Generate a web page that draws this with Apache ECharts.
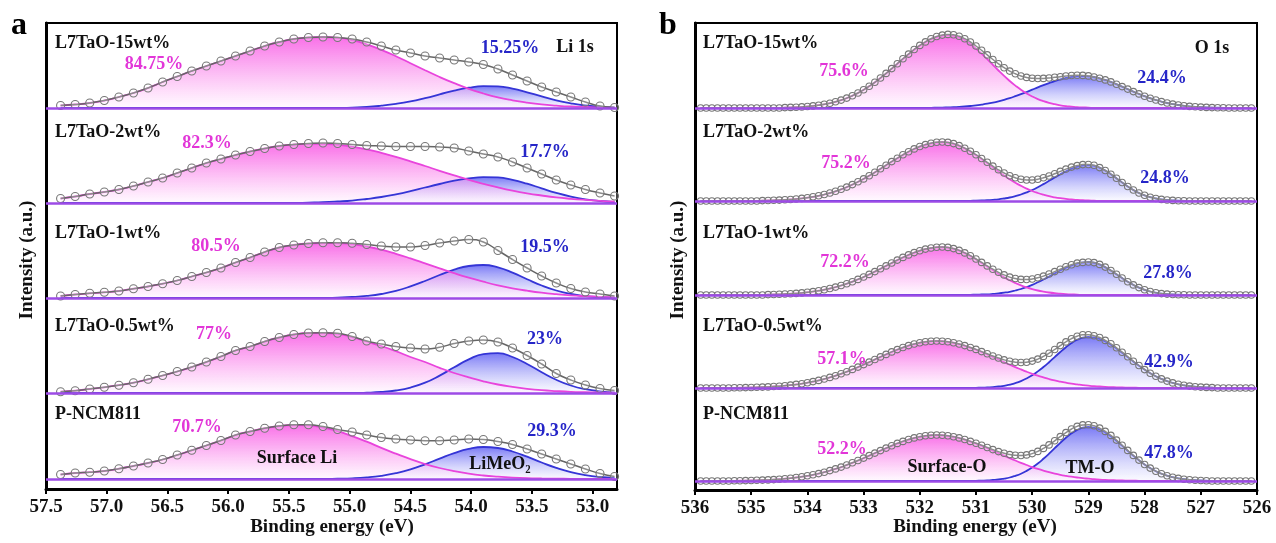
<!DOCTYPE html>
<html>
<head>
<meta charset="utf-8">
<script src="https://cdn.jsdelivr.net/npm/echarts@6/dist/echarts.min.js"></script>
<style>
html, body { margin: 0; padding: 0; background: #fff; }
#main { width: 1276px; height: 543px; }
</style>
</head>
<body>
<div id="main"></div>
<script>
// ---------- Li 1s (panel a) ----------
const energyLi = [57.38, 57.26, 57.14, 57.02, 56.90, 56.78, 56.66, 56.54, 56.42, 56.30, 56.18, 56.06, 55.94, 55.82, 55.70, 55.58, 55.46, 55.34, 55.22, 55.10,
  54.98, 54.86, 54.74, 54.62, 54.50, 54.38, 54.26, 54.14, 54.02, 53.90, 53.78, 53.66, 53.54, 53.42, 53.30, 53.18, 53.06, 52.94, 52.82];
const liTicks = [53.0, 53.5, 54.0, 54.5, 55.0, 55.5, 56.0, 56.5, 57.0, 57.5];

// measured spectra (circles)
const li15Data = [2.5, 3.5, 5, 7.5, 11, 15, 20, 26, 31.5, 37, 42, 47, 52, 57, 62, 66, 69, 70.5, 71, 70.5, 69, 66, 62, 58, 55, 52, 50, 48, 46, 43.5, 39, 33, 27, 21, 16, 11, 6, 2, 0.5];
const li2Data = [4.5, 6.5, 9, 11, 13.5, 17, 21, 25, 30, 35, 40, 44, 48, 51.5, 54.5, 57, 58.5, 59.5, 60, 59.5, 58.5, 57.5, 57, 56.5, 56.5, 56.5, 56, 55, 52, 49, 46, 41, 35, 29, 23, 18, 13.5, 10, 7];
const li1Data = [2, 3.5, 4.7, 5.7, 7, 9.3, 11.5, 14.3, 17.5, 21.5, 25.5, 30, 35.5, 40.5, 46, 50.5, 53, 54.5, 55.3, 55.3, 54.7, 53.5, 52, 51, 51, 52.5, 55, 57, 58.5, 56, 47.5, 38.5, 30, 22, 15, 9.5, 6, 4, 2];
const li05Data = [1.3, 2.3, 4, 5.7, 7.8, 10.3, 13.7, 17.5, 21.5, 26, 31, 36.5, 42.5, 46.5, 51.5, 55.5, 58.5, 60, 60.3, 59.7, 56.5, 52, 49, 46.5, 45, 44, 45.7, 49.5, 52, 53, 51, 45, 37.5, 29, 19.5, 13, 8, 4.5, 2.5];
const li0Data = [4.5, 6, 6.8, 8, 10.3, 13, 16, 19.5, 24, 28.7, 33.5, 38.5, 44, 47.5, 50.8, 53, 54.2, 54.2, 52.5, 49.5, 47, 44, 41.5, 40, 39, 38.3, 38.3, 39, 40, 39.5, 37.5, 34.5, 30, 25, 20, 15, 10, 5.5, 2.5];

// fitted Surface Li component
const li15Surface = [2.5, 3.5, 5, 7.5, 11, 15, 20, 26, 31.5, 37, 42, 47, 52, 57, 62, 66, 69, 70.5, 71, 70.3, 67.9, 63.7, 58.2, 51.8, 44.8, 37.8, 31, 24.8, 19.2, 14.5, 10.6, 7.7, 5.4, 3.6, 2.4, 1.5, 1, 0.6, 0.4];
const li2Surface = [4.5, 6.5, 9, 11, 13.5, 17, 21, 25, 30, 35, 40, 44, 48, 51.5, 54.5, 57, 58.5, 59.1, 59.2, 58.2, 56.4, 53.7, 50.2, 46.2, 41.7, 37, 32.2, 27.6, 23.2, 19.2, 15.6, 12.4, 9.7, 7.5, 5.6, 4.2, 3.1, 2.2, 1.5];
const li1Surface = [2, 3.5, 4.7, 5.7, 7, 9.3, 11.5, 14.3, 17.5, 21.5, 25.5, 30, 35.5, 40.5, 46, 50.5, 53, 54.5, 55, 55, 53.8, 51.5, 48.3, 44.2, 39.6, 34.7, 29.7, 24.8, 20.3, 16.3, 12.7, 9.7, 7.3, 5.3, 3.8, 2.6, 1.8, 1.2, 0.8];
const li05Surface = [1.3, 2.3, 4, 5.7, 7.8, 10.3, 13.7, 17.5, 21.5, 26, 31, 36.5, 42.5, 46.5, 51.5, 55.5, 58.5, 60, 60, 59.2, 55.8, 51.5, 47, 41.8, 36, 31, 25.2, 20, 15.6, 11.7, 8.5, 6.1, 4.2, 2.8, 1.9, 1.2, 0.8, 0.5, 0.3];
const li0Surface = [4.5, 6, 6.8, 8, 10.3, 13, 16, 19.5, 24, 28.7, 33.5, 38.5, 44, 47.5, 50.8, 53, 54, 53.6, 51.5, 47.8, 42.9, 37.3, 31.1, 25.3, 19.8, 15, 11, 7.8, 5.3, 3.5, 2.3, 1.4, 0.8, 0.5, 0.3, 0.2, 0.1, 0, 0];

// fitted LiMeO2 component
const li15Lattice = [0, 0, 0, 0, 0, 0, 0, 0, 0, 0, 0, 0, 0, 0, 0, 0, 0, 0, 0, 0, 0.4, 1, 2.3, 4.1, 6.6, 9.9, 13.6, 17.4, 20.3, 21.8, 21.6, 19.4, 15.7, 11.6, 7.7, 4.7, 2.5, 1.3, 0.5];
const li2Lattice = [0, 0, 0, 0, 0, 0, 0, 0, 0, 0, 0, 0, 0, 0, 0, 0, 0, 0.4, 0.8, 1.5, 2.4, 4, 6, 8.7, 11.9, 15.5, 19, 22.3, 24.6, 25.9, 25.6, 23.2, 19.3, 14.6, 10.1, 6.4, 3.7, 2, 0.9];
const li1Lattice = [0, 0, 0, 0, 0, 0, 0, 0, 0, 0, 0, 0, 0, 0, 0, 0, 0, 0, 0, 0.4, 1, 2.1, 4, 7.1, 11.6, 17, 23, 28.4, 32, 33, 30.6, 25.4, 18.8, 12.5, 7.5, 4, 1.9, 0.8, 0.3];
const li05Lattice = [0, 0, 0, 0, 0, 0, 0, 0, 0, 0, 0, 0, 0, 0, 0, 0, 0, 0, 0, 0, 0, 0.3, 1, 2.5, 5.4, 10.3, 17.4, 25.7, 33.6, 38.9, 39.8, 36, 29, 20.8, 13.2, 7.5, 3.8, 1.7, 0.7];
const li0Lattice = [0, 0, 0, 0, 0, 0, 0, 0, 0, 0, 0, 0, 0, 0, 0, 0, 0, 0, 0, 0.3, 0.7, 1.6, 3.2, 5.8, 9.6, 14.7, 20.4, 25.9, 30.1, 32, 31, 27.5, 22.3, 16.5, 11.2, 6.9, 3.9, 2, 1];

// ---------- O 1s (panel b) ----------
const energyO = [535.9, 535.8, 535.7, 535.6, 535.5, 535.4, 535.3, 535.2, 535.1, 535.0,
  534.9, 534.8, 534.7, 534.6, 534.5, 534.4, 534.3, 534.2, 534.1, 534.0,
  533.9, 533.8, 533.7, 533.6, 533.5, 533.4, 533.3, 533.2, 533.1, 533.0,
  532.9, 532.8, 532.7, 532.6, 532.5, 532.4, 532.3, 532.2, 532.1, 532.0,
  531.9, 531.8, 531.7, 531.6, 531.5, 531.4, 531.3, 531.2, 531.1, 531.0,
  530.9, 530.8, 530.7, 530.6, 530.5, 530.4, 530.3, 530.2, 530.1, 530.0,
  529.9, 529.8, 529.7, 529.6, 529.5, 529.4, 529.3, 529.2, 529.1, 529.0,
  528.9, 528.8, 528.7, 528.6, 528.5, 528.4, 528.3, 528.2, 528.1, 528.0,
  527.9, 527.8, 527.7, 527.6, 527.5, 527.4, 527.3, 527.2, 527.1, 527.0,
  526.9, 526.8, 526.7, 526.6, 526.5, 526.4, 526.3, 526.2, 526.1];

// fitted Surface-O component
const o15Surface = [0, 0, 0, 0, 0, 0, 0, 0, 0, 0, 0, 0, 0, 0, 0,
  0.4, 0.6, 0.8, 1.1, 1.5, 2.1, 2.8, 3.7, 4.8, 6.2, 7.9, 9.9, 12.3, 15, 18.2, 21.8, 25.7, 30, 34.6, 39.4, 44.3, 49.2, 53.9, 58.5, 62.6, 66.1, 69.1, 71.2, 72.5, 73,
  72.4, 70.6, 67.8, 64, 59.4, 54.3, 48.8, 43.1, 37.5, 32.1, 27, 22.4, 18.2, 14.6, 11.5, 8.9, 6.8, 5.1, 3.8, 2.7, 1.9, 1.4, 0.9, 0.6, 0.4,
  0, 0, 0, 0, 0, 0, 0, 0, 0, 0, 0, 0, 0, 0, 0, 0, 0, 0, 0, 0, 0, 0, 0, 0, 0, 0, 0, 0, 0];
const o2Surface = [0, 0, 0, 0, 0, 0, 0, 0, 0, 0, 0,
  0.4, 0.5, 0.7, 0.9, 1.2, 1.5, 2, 2.6, 3.3, 4.2, 5.2, 6.5, 8, 9.7, 11.7, 13.9, 16.4, 19.2, 22.1, 25.3, 28.7, 32.2, 35.8, 39.4, 42.8, 46.2, 49.3, 52.1, 54.5, 56.4, 57.8, 58.7, 59,
  58.6, 57.4, 55.4, 52.8, 49.6, 46, 42, 37.9, 33.7, 29.5, 25.5, 21.8, 18.3, 15.2, 12.4, 10, 8, 6.3, 4.8, 3.7, 2.8, 2.1, 1.5, 1.1, 0.8, 0.5, 0.4,
  0, 0, 0, 0, 0, 0, 0, 0, 0, 0, 0, 0, 0, 0, 0, 0, 0, 0, 0, 0, 0, 0, 0, 0, 0, 0, 0, 0];
const o1Surface = [0, 0, 0, 0, 0, 0, 0, 0, 0, 0, 0, 0,
  0.4, 0.5, 0.7, 1, 1.3, 1.6, 2.1, 2.7, 3.4, 4.3, 5.3, 6.5, 7.9, 9.5, 11.3, 13.3, 15.6, 18, 20.6, 23.4, 26.2, 29.1, 32, 34.9, 37.6, 40.1, 42.4, 44.3, 45.9, 47, 47.8, 48,
  47.6, 46.4, 44.6, 42.1, 39.1, 35.7, 32.1, 28.4, 24.7, 21.1, 17.8, 14.7, 12, 9.6, 7.6, 5.9, 4.5, 3.4, 2.5, 1.8, 1.3, 0.9, 0.6, 0.4,
  0, 0, 0, 0, 0, 0, 0, 0, 0, 0, 0, 0, 0, 0, 0, 0, 0, 0, 0, 0, 0, 0, 0, 0, 0, 0, 0, 0, 0, 0, 0];
const o05Surface = [0, 0, 0, 0, 0, 0,
  0.2, 0.3, 0.4, 0.5, 0.7, 0.9, 1.1, 1.5, 1.8, 2.3, 2.9, 3.6, 4.3, 5.3, 6.4, 7.6, 9, 10.6, 12.3, 14.2, 16.3, 18.6, 20.9, 23.4, 25.9, 28.5, 31.1, 33.6, 36.1, 38.4, 40.5, 42.4, 44, 45.3, 46.2, 46.8, 47,
  46.8, 46.2, 45.3, 44, 42.4, 40.5, 38.4, 36.1, 33.6, 31.1, 28.5, 25.9, 23.4, 20.9, 18.6, 16.3, 14.2, 12.3, 10.6, 9, 7.6, 6.4, 5.3, 4.3, 3.6, 2.9, 2.3, 1.8, 1.5, 1.1, 0.9, 0.7, 0.5, 0.4, 0.3, 0.2,
  0, 0, 0, 0, 0, 0, 0, 0, 0, 0, 0, 0, 0, 0, 0, 0, 0, 0, 0, 0];
const o0Surface = [0, 0, 0, 0, 0, 0,
  0.2, 0.3, 0.4, 0.5, 0.7, 0.9, 1.1, 1.4, 1.8, 2.3, 2.8, 3.5, 4.3, 5.2, 6.2, 7.4, 8.8, 10.4, 12.1, 13.9, 16, 18.2, 20.5, 22.9, 25.4, 27.9, 30.4, 32.9, 35.3, 37.6, 39.6, 41.5, 43.1, 44.3, 45.2, 45.8, 46,
  45.8, 45.2, 44.3, 43.1, 41.5, 39.6, 37.6, 35.3, 32.9, 30.4, 27.9, 25.4, 22.9, 20.5, 18.2, 16, 13.9, 12.1, 10.4, 8.8, 7.4, 6.2, 5.2, 4.3, 3.5, 2.8, 2.3, 1.8, 1.4, 1.1, 0.9, 0.7, 0.5, 0.4, 0.3, 0.2,
  0, 0, 0, 0, 0, 0, 0, 0, 0, 0, 0, 0, 0, 0, 0, 0, 0, 0, 0, 0];

// fitted TM-O component
const o15Lattice = [0, 0, 0, 0, 0, 0, 0, 0, 0, 0, 0, 0, 0, 0, 0, 0, 0, 0, 0, 0, 0, 0, 0, 0, 0, 0, 0, 0, 0, 0, 0, 0, 0, 0, 0, 0, 0, 0, 0, 0, 0,
  0.2, 0.3, 0.4, 0.6, 0.8, 1.1, 1.5, 2, 2.6, 3.4, 4.3, 5.4, 6.7, 8.2, 9.9, 11.8, 13.8, 16, 18.3, 20.6, 22.8, 24.9, 26.9, 28.6, 30.1, 31.1, 31.8, 32,
  31.7, 31, 29.7, 28.1, 26.1, 23.8, 21.4, 18.9, 16.4, 14.1, 11.8, 9.8, 8, 6.4, 5, 3.9, 3, 2.2, 1.6, 1.2, 0.9, 0.6, 0.4, 0.3, 0.2,
  0, 0, 0, 0, 0];
const o2Lattice = [0, 0, 0, 0, 0, 0, 0, 0, 0, 0, 0, 0, 0, 0, 0, 0, 0, 0, 0, 0, 0, 0, 0, 0, 0, 0, 0, 0, 0, 0, 0, 0, 0, 0, 0, 0, 0, 0, 0, 0, 0, 0, 0, 0, 0, 0, 0, 0,
  0.2, 0.3, 0.5, 0.8, 1.2, 1.7, 2.5, 3.5, 4.9, 6.5, 8.6, 11, 13.8, 16.9, 20.2, 23.5, 26.8, 29.8, 32.4, 34.3, 35.6, 36,
  35.3, 33.4, 30.5, 26.8, 22.7, 18.5, 14.5, 11, 8, 5.7, 3.8, 2.5, 1.6, 1, 0.6, 0.3, 0.2,
  0, 0, 0, 0, 0, 0, 0, 0, 0, 0, 0, 0];
const o1Lattice = [0, 0, 0, 0, 0, 0, 0, 0, 0, 0, 0, 0, 0, 0, 0, 0, 0, 0, 0, 0, 0, 0, 0, 0, 0, 0, 0, 0, 0, 0, 0, 0, 0, 0, 0, 0, 0, 0, 0, 0, 0, 0, 0, 0, 0, 0, 0, 0,
  0.2, 0.3, 0.5, 0.7, 1.1, 1.6, 2.3, 3.2, 4.5, 6, 7.9, 10.1, 12.7, 15.5, 18.5, 21.6, 24.5, 27.3, 29.7, 31.5, 32.6, 33,
  32.4, 30.6, 27.9, 24.5, 20.8, 17, 13.3, 10.1, 7.4, 5.2, 3.5, 2.3, 1.4, 0.9, 0.5, 0.3, 0.2,
  0, 0, 0, 0, 0, 0, 0, 0, 0, 0, 0, 0];
const o05Lattice = [0, 0, 0, 0, 0, 0, 0, 0, 0, 0, 0, 0, 0, 0, 0, 0, 0, 0, 0, 0, 0, 0, 0, 0, 0, 0, 0, 0, 0, 0, 0, 0, 0, 0, 0, 0, 0, 0, 0, 0, 0, 0, 0, 0, 0, 0, 0, 0, 0,
  0.2, 0.3, 0.6, 0.9, 1.5, 2.2, 3.4, 4.9, 6.9, 9.5, 12.7, 16.6, 21, 25.8, 30.9, 36, 40.8, 45, 48.2, 50.3, 51,
  50.5, 49, 46.5, 43.3, 39.5, 35.3, 30.9, 26.5, 22.3, 18.4, 14.8, 11.7, 9.1, 6.9, 5.1, 3.7, 2.7, 1.9, 1.3, 0.9, 0.6, 0.4,
  0, 0, 0, 0, 0, 0, 0];
const o0Lattice = [0, 0, 0, 0, 0, 0, 0, 0, 0, 0, 0, 0, 0, 0, 0, 0, 0, 0, 0, 0, 0, 0, 0, 0, 0, 0, 0, 0, 0, 0, 0, 0, 0, 0, 0, 0, 0, 0, 0, 0, 0, 0, 0, 0, 0, 0, 0, 0, 0,
  0.2, 0.4, 0.6, 1, 1.5, 2.4, 3.5, 5.2, 7.3, 10.1, 13.5, 17.5, 22.2, 27.3, 32.8, 38.2, 43.2, 47.7, 51.1, 53.3, 54,
  53.4, 51.5, 48.5, 44.7, 40.2, 35.3, 30.2, 25.3, 20.7, 16.5, 12.9, 9.8, 7.3, 5.3, 3.8, 2.6, 1.8, 1.2, 0.8, 0.5, 0.3,
  0, 0, 0, 0, 0, 0, 0, 0];

// labels
const sampleNames = ['L7TaO-15wt%', 'L7TaO-2wt%', 'L7TaO-1wt%', 'L7TaO-0.5wt%', 'P-NCM811'];
const liSurfacePct = ['84.75%', '82.3%', '80.5%', '77%', '70.7%'];
const liLatticePct = ['15.25%', '17.7%', '19.5%', '23%', '29.3%'];
const oSurfacePct = ['75.6%', '75.2%', '72.2%', '57.1%', '52.2%'];
const oLatticePct = ['24.4%', '24.8%', '27.8%', '42.9%', '47.8%'];

const liSurface = [li15Surface, li2Surface, li1Surface, li05Surface, li0Surface];
const liLattice = [li15Lattice, li2Lattice, li1Lattice, li05Lattice, li0Lattice];
const liMeasured = [li15Data, li2Data, li1Data, li05Data, li0Data];
const oSurface = [o15Surface, o2Surface, o1Surface, o05Surface, o0Surface];
const oLattice = [o15Lattice, o2Lattice, o1Lattice, o05Lattice, o0Lattice];

// vertical stacking of the spectra (layout)
const offsetA = [381, 286, 191, 96, 10];
const offsetB = [382, 289, 195, 102, 9];

const FONT = '"Liberation Serif", "Times New Roman", serif';
const PINK_LINE = '#e845dc';
const BLUE_LINE = '#3535d6';
const PINK_TEXT = '#e236d8';
const BLUE_TEXT = '#2626c8';
const BASE = '#9d4be6';

var myChart = echarts.init(document.getElementById('main'));

const pinkFill = () => new echarts.graphic.LinearGradient(0, 0, 0, 1, [
    { offset: 0, color: 'rgba(246, 40, 220, 0.95)' },
    { offset: 1, color: 'rgba(255, 245, 255, 0.75)' }
]);
const blueFill = () => new echarts.graphic.LinearGradient(0, 0, 0, 1, [
    { offset: 0, color: 'rgba(55, 55, 240, 0.95)' },
    { offset: 1, color: 'rgba(245, 245, 255, 0.6)' }
]);

const series = [];

const addSpectrum = (g, energy, surf, latt, measured, off, circle) => {
    const toPts = arr => energy.map((e, i) => [e, off + arr[i]]);
    series.push({
        type: 'line', xAxisIndex: g, yAxisIndex: g, smooth: true, symbol: 'none',
        data: toPts(latt),
        lineStyle: { color: BLUE_LINE, width: 1.8 },
        areaStyle: { color: blueFill(), origin: off },
        markLine: {
            silent: true, symbol: ['none', 'none'], label: { show: false },
            lineStyle: { color: BASE, width: 2.5, type: 'solid' },
            data: [{ yAxis: off }]
        }
    });
    series.push({
        type: 'line', xAxisIndex: g, yAxisIndex: g, smooth: true, symbol: 'none',
        data: toPts(surf),
        lineStyle: { color: PINK_LINE, width: 1.8 },
        areaStyle: { color: pinkFill(), origin: off }
    });
    series.push({
        type: 'line', xAxisIndex: g, yAxisIndex: g, smooth: true,
        symbol: 'circle', symbolSize: circle, showAllSymbol: true,
        data: toPts(measured),
        lineStyle: { color: '#666', width: 1.5 },
        itemStyle: { color: 'rgba(255,255,255,0.25)', borderColor: '#777', borderWidth: 1.1 }
    });
};

for (let s = 0; s < 5; s++) {
    addSpectrum(0, energyLi, liSurface[s], liLattice[s], liMeasured[s], offsetA[s], 8);
    // O 1s envelope is the sum of the two fitted components
    const env = oSurface[s].map((v, i) => v + oLattice[s][i]);
    addSpectrum(1, energyO, oSurface[s], oLattice[s], env, offsetB[s], 6.5);
}

const txt = (x, y, text, size, color, align, extra) => Object.assign({
    type: 'text', x: x, y: y, silent: true, z: 100,
    style: {
        text: text, fill: color, font: 'bold ' + size + 'px ' + FONT,
        textAlign: align || 'center', textVerticalAlign: 'middle'
    }
}, extra || {});

const graphics = [];
const nameYs = [43, 132, 233, 326, 414];
const liPinkPos = [[154, 64], [207, 143], [216, 246], [214, 334], [197, 427]];
const liBluePos = [[510, 48], [545, 152], [545, 247], [545, 339], [552, 431]];
const oPinkPos = [[844, 71], [846, 163], [845, 262], [842, 359], [842, 449]];
const oBluePos = [[1162, 78], [1165, 178], [1168, 273], [1169, 362], [1169, 453]];
for (let s = 0; s < 5; s++) {
    graphics.push(txt(55, nameYs[s], sampleNames[s], 18, '#111', 'left'));
    graphics.push(txt(703, nameYs[s], sampleNames[s], 18, '#111', 'left'));
    graphics.push(txt(liPinkPos[s][0], liPinkPos[s][1], liSurfacePct[s], 18, PINK_TEXT));
    graphics.push(txt(liBluePos[s][0], liBluePos[s][1], liLatticePct[s], 18, BLUE_TEXT));
    graphics.push(txt(oPinkPos[s][0], oPinkPos[s][1], oSurfacePct[s], 18, PINK_TEXT));
    graphics.push(txt(oBluePos[s][0], oBluePos[s][1], oLatticePct[s], 18, BLUE_TEXT));
}
graphics.push(txt(575, 47, 'Li 1s', 18, '#111'));
graphics.push(txt(1212, 48, 'O 1s', 18, '#111'));
graphics.push(txt(297, 458, 'Surface Li', 18, '#111'));
graphics.push(txt(500, 464, 'LiMeO₂', 18, '#111'));
graphics.push(txt(947, 467, 'Surface-O', 18, '#111'));
graphics.push(txt(1090, 468, 'TM-O', 18, '#111'));
graphics.push(txt(332, 527, 'Binding energy (eV)', 19, '#111'));
graphics.push(txt(975, 527, 'Binding energy (eV)', 19, '#111'));
graphics.push(txt(27, 260, 'Intensity (a.u.)', 19, '#111', 'center', { rotation: Math.PI / 2 }));
graphics.push(txt(678, 260, 'Intensity (a.u.)', 19, '#111', 'center', { rotation: Math.PI / 2 }));
graphics.push(txt(19, 26, 'a', 32, '#000'));
graphics.push(txt(668, 26, 'b', 32, '#000'));

const axisLabelStyle = { color: '#111', fontFamily: FONT, fontWeight: 'bold', fontSize: 19, margin: 9 };

const option = {
    animation: false,
    grid: [
        { left: 46, top: 23, width: 571, height: 466, show: true, borderColor: '#000', borderWidth: 2 },
        { left: 695, top: 23, width: 562, height: 467, show: true, borderColor: '#000', borderWidth: 2 }
    ],
    xAxis: [
        {
            gridIndex: 0, type: 'value', inverse: true, min: 52.8, max: 57.5,
            axisLine: { onZero: false, lineStyle: { color: '#000', width: 3 } },
            axisTick: { show: true, length: 5, lineStyle: { color: '#000', width: 2 }, customValues: liTicks },
            axisLabel: Object.assign({ customValues: liTicks, formatter: v => Number(v).toFixed(1) }, axisLabelStyle),
            splitLine: { show: false }
        },
        {
            gridIndex: 1, type: 'value', inverse: true, min: 526, max: 536, interval: 1,
            axisLine: { onZero: false, lineStyle: { color: '#000', width: 3 } },
            axisTick: { show: true, length: 5, lineStyle: { color: '#000', width: 2 } },
            axisLabel: axisLabelStyle,
            splitLine: { show: false }
        }
    ],
    yAxis: [
        {
            gridIndex: 0, type: 'value', min: 0, max: 466,
            axisLine: { show: true, onZero: false, lineStyle: { color: '#000', width: 3 } },
            axisTick: { show: false }, axisLabel: { show: false }, splitLine: { show: false }
        },
        {
            gridIndex: 1, type: 'value', min: 0, max: 467,
            axisLine: { show: true, onZero: false, lineStyle: { color: '#000', width: 3 } },
            axisTick: { show: false }, axisLabel: { show: false }, splitLine: { show: false }
        }
    ],
    series: series,
    graphic: graphics
};

myChart.setOption(option);
</script>
</body>
</html>
